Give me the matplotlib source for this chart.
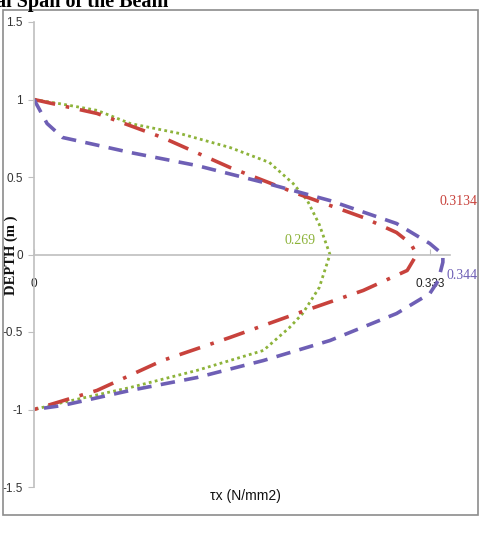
import matplotlib
matplotlib.use("Agg")
import matplotlib.pyplot as plt
from matplotlib.patches import Rectangle

# ---- data ----
green_x = [0.0, 0.024, 0.053, 0.081, 0.123, 0.165, 0.198, 0.218, 0.230, 0.240, 0.249,
           0.240, 0.226, 0.215, 0.193, 0.137, 0.081, 0.024, 0.0]
green_y = [1.0, 0.97, 0.93, 0.845, 0.78, 0.69, 0.594, 0.458, 0.348, 0.194, 0.0,
           -0.213, -0.381, -0.471, -0.619, -0.748, -0.858, -0.955, -1.0]

red_x = [0.0, 0.053, 0.108, 0.165, 0.221, 0.277, 0.305, 0.317, 0.322,
         0.314, 0.277, 0.221, 0.165, 0.108, 0.053, 0.0]
red_y = [1.0, 0.91, 0.755, 0.561, 0.394, 0.239, 0.142, 0.07, 0.0,
         -0.103, -0.232, -0.381, -0.535, -0.684, -0.877, -1.0]

blue_x = [0.0, 0.011, 0.024, 0.047, 0.081, 0.137, 0.193, 0.249, 0.305, 0.333, 0.344,
          0.344, 0.340, 0.333, 0.305, 0.249, 0.193, 0.137, 0.081, 0.024, 0.0]
blue_y = [1.0, 0.845, 0.755, 0.716, 0.658, 0.574, 0.465, 0.348, 0.2, 0.071, 0.0,
          -0.05, -0.17, -0.252, -0.381, -0.555, -0.684, -0.794, -0.877, -0.974, -1.0]

y_ticks = [-1.5, -1.0, -0.5, 0.0, 0.5, 1.0, 1.5]
y_tick_labels = ["-1.5", "-1", "-0.5", "0", "0.5", "1", "1.5"]
x_ticks = [0.0, 0.333]
x_tick_labels = ["0", "0.333"]

labels = ["0.269", "0.3134", "0.344"]
label_pos = [(0.224, 0.09), (0.357, 0.34), (0.360, -0.135)]

GREEN = "#8DB33A"
RED = "#C8423C"
BLUE = "#6E5FB5"
GRAY = "#BFBFBF"
SANS = ["Liberation Sans", "DejaVu Sans"]
SERIF = ["Liberation Serif", "DejaVu Serif"]

fig = plt.figure(figsize=(4.82, 5.34), dpi=100)
fig.patch.set_facecolor("white")

# chart border
fig.patches.append(Rectangle((3 / 482, 19 / 534), 475 / 482, 505 / 534,
                             transform=fig.transFigure, fill=False,
                             edgecolor="#8C8C8C", linewidth=1.2))
# cropped title
fig.text(-4 / 482, 1 - 7 / 534, "al Span of the Beam", family=SERIF,
         fontweight="bold", fontsize=14.5, ha="left", va="baseline")

ax = fig.add_axes([34 / 482, 47 / 534, 416 / 482, 465 / 534])
ax.set_xlim(0, 0.35)
ax.set_ylim(-1.5, 1.5)

ax.plot(green_x, green_y, color=GREEN, linestyle=(0, (1, 1.2)), linewidth=2.0)
ax.plot(red_x, red_y, color=RED, linestyle=(0, (6, 3, 1, 3)), linewidth=2.6)
ax.plot(blue_x, blue_y, color=BLUE, linestyle=(0, (4, 2.6)), linewidth=2.6)

for s in ["top", "right"]:
    ax.spines[s].set_visible(False)
ax.spines["left"].set_color(GRAY)
ax.spines["bottom"].set_color(GRAY)
ax.spines["left"].set_linewidth(1.2)
ax.spines["bottom"].set_linewidth(1.2)
ax.spines["bottom"].set_position(("data", 0))

ax.set_yticks(y_ticks)
ax.set_yticklabels(y_tick_labels, family=SANS, fontsize=8.5, color="#333333")
ax.set_xticks(x_ticks)
ax.set_xticklabels(x_tick_labels, family=SANS, fontsize=8.5, color="#222222")
ax.tick_params(axis="y", direction="out", length=4, color=GRAY, pad=4)
ax.tick_params(axis="x", direction="in", length=4, color=GRAY, pad=17)

colors = [GREEN, RED, BLUE]
for t, (px, py), c in zip(labels, label_pos, colors):
    ax.text(px, py, t, color=c, family=SERIF, fontsize=10, ha="center",
            va="center", clip_on=False)

fig.text(245 / 482, 1 - 496 / 534, "τx (N/mm2)", family=SANS, fontsize=10,
         ha="center", va="center", color="#111111")
fig.text(11 / 482, 1 - 255 / 534, "DEPTH (m )", family=SERIF, fontweight="bold",
         fontsize=10.5, rotation=90, ha="center", va="center", color="#111111")

fig.savefig("out.png", dpi=100, facecolor="white")
